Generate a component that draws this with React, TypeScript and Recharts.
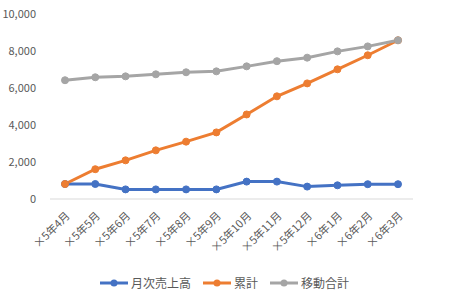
import React from 'react';
import { LineChart, Line, XAxis, YAxis } from 'recharts';

const months = ['×5年4月', '×5年5月', '×5年6月', '×5年7月', '×5年8月', '×5年9月', '×5年10月', '×5年11月', '×5年12月', '×6年1月', '×6年2月', '×6年3月'];
const monthly = [810, 810, 520, 520, 520, 520, 940, 940, 670, 740, 800, 800];
const cumulative = [810, 1610, 2090, 2630, 3100, 3600, 4570, 5550, 6250, 7010, 7770, 8580];
const moving = [6420, 6580, 6630, 6740, 6850, 6900, 7170, 7450, 7640, 7980, 8250, 8580];
const yTicks = [0, 2000, 4000, 6000, 8000, 10000];

const series = [
  { key: 'monthly', name: '月次売上高', color: '#4472C4' },
  { key: 'cumulative', name: '累計', color: '#ED7D31' },
  { key: 'moving', name: '移動合計', color: '#A5A5A5' },
];

const data = months.map((m, i) => ({
  month: m,
  monthly: monthly[i],
  cumulative: cumulative[i],
  moving: moving[i],
}));

const FONT = '"Noto Sans CJK JP", "Noto Sans", sans-serif';

// 斜めの月ラベル
const MonthTick = ({ x, y, payload }: any) => (
  <text
    x={x + 2}
    y={y + 6}
    transform={`rotate(-45, ${x + 2}, ${y + 6})`}
    textAnchor="end"
    dominantBaseline="central"
    fill="#595959"
    fontSize={11}
    fontFamily={FONT}
  >
    {payload.value}
  </text>
);

const ChartLegend = () => (
  <div
    style={{
      position: 'absolute',
      left: 0,
      top: 274,
      width: 449,
      display: 'flex',
      justifyContent: 'center',
      gap: 12,
      fontFamily: FONT,
      fontSize: 12,
      color: '#595959',
      lineHeight: '18px',
    }}
  >
    {series.map((s) => (
      <div key={s.key} style={{ display: 'flex', alignItems: 'center', gap: 3 }}>
        <svg width={28} height={10}>
          <line x1={0} y1={5} x2={28} y2={5} stroke={s.color} strokeWidth={3} />
          <circle cx={14} cy={5} r={3.5} fill={s.color} />
        </svg>
        <span>{s.name}</span>
      </div>
    ))}
  </div>
);

export default function App() {
  return (
    <div style={{ position: 'fixed', left: 0, top: 0, width: 449, height: 302, background: '#fff' }}>
      <LineChart width={449} height={302} data={data} margin={{ top: 14, right: 36, bottom: 0, left: 0 }}>
        <XAxis
          dataKey="month"
          interval={0}
          height={103}
          padding={{ left: 15, right: 15 }}
          tick={<MonthTick />}
          tickLine={false}
          axisLine={{ stroke: '#D9D9D9' }}
        />
        <YAxis
          width={50}
          domain={[0, 10000]}
          ticks={yTicks}
          tickFormatter={(v: number) => v.toLocaleString('en-US')}
          tick={{ fill: '#595959', fontSize: 11, fontFamily: FONT }}
          tickLine={false}
          axisLine={false}
          tickSize={6}
          tickMargin={8}
        />
        {series.map((s) => (
          <Line
            key={s.key}
            dataKey={s.key}
            name={s.name}
            stroke={s.color}
            strokeWidth={3}
            dot={{ r: 3.5, fill: s.color, stroke: s.color, strokeWidth: 1 }}
            isAnimationActive={false}
          />
        ))}
      </LineChart>
      <ChartLegend />
    </div>
  );
}
